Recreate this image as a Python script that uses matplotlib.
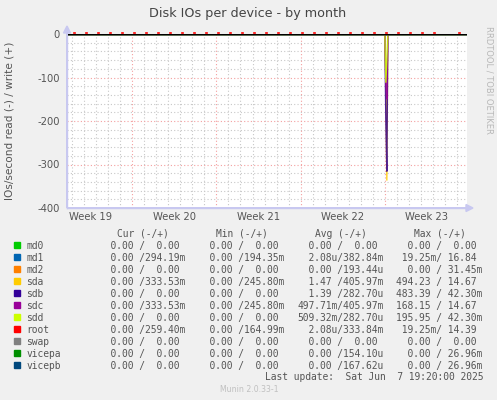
import matplotlib
matplotlib.use("Agg")
import matplotlib.pyplot as plt
import numpy as np

# ---------------- data ----------------
title = "Disk IOs per device - by month"
ylabel = "IOs/second read (-) / write (+)"
week_labels = ["Week 19", "Week 20", "Week 21", "Week 22", "Week 23"]
week_label_pos = [-24.5, -17.5, -10.5, -3.5, 3.5]   # days relative to start of week 23
week_bounds = [-21, -14, -7, 0]
x_start, x_end = -26.42, 6.83
y_ticks = [0, -100, -200, -300, -400]

devices = ["md0", "md1", "md2", "sda", "sdb", "sdc", "sdd", "root", "swap", "vicepa", "vicepb"]
colors = ["#00CC00", "#0066B3", "#FF8000", "#FFCC00", "#330099", "#990099",
          "#CCFF00", "#FF0000", "#808080", "#008F00", "#00487D"]

# read spike near start of week 23 (hours after week start -> IOs/s read, drawn negative)
spike_hours = [0, 2, 4, 6]
spike_read = {
    "sda": [0, 110, 337, 0],
    "sdb": [0, 200, 316, 0],
    "sdc": [0, 112, 150, 0],
    "sdd": [0, 112, 60, 0],
}
# small daily write blips (root), at ~04:00 each day
write_days = list(range(-26, 7))
write_val = [2.0] * len(write_days)

cur = ["  0.00 /  0.00 ", "  0.00 /294.19m", "  0.00 /  0.00 ", "  0.00 /333.53m",
       "  0.00 /  0.00 ", "  0.00 /333.53m", "  0.00 /  0.00 ", "  0.00 /259.40m",
       "  0.00 /  0.00 ", "  0.00 /  0.00 ", "  0.00 /  0.00 "]
mins = ["  0.00 /  0.00 ", "  0.00 /194.35m", "  0.00 /  0.00 ", "  0.00 /245.80m",
        "  0.00 /  0.00 ", "  0.00 /245.80m", "  0.00 /  0.00 ", "  0.00 /164.99m",
        "  0.00 /  0.00 ", "  0.00 /  0.00 ", "  0.00 /  0.00 "]
avgs = ["  0.00 /  0.00 ", "  2.08u/382.84m", "  0.00 /193.44u", "  1.47 /405.97m",
        "  1.39 /282.70u", "497.71m/405.97m", "509.32m/282.70u", "  2.08u/333.84m",
        "  0.00 /  0.00 ", "  0.00 /154.10u", "  0.00 /167.62u"]
maxs = ["  0.00 /  0.00 ", " 19.25m/ 16.84 ", "  0.00 / 31.45m", "494.23 / 14.67 ",
        "483.39 / 42.30m", "168.15 / 14.67 ", "195.95 / 42.30m", " 19.25m/ 14.39 ",
        "  0.00 /  0.00 ", "  0.00 / 26.96m", "  0.00 / 26.96m"]
headers = ["Cur (-/+)", "Min (-/+)", "Avg (-/+)", "Max (-/+)"]
last_update = "Last update:  Sat Jun  7 19:20:00 2025"
munin_ver = "Munin 2.0.33-1"
side_text = "RRDTOOL / TOBI OETIKER"

# ---------------- figure ----------------
W, H = 497, 400
fig = plt.figure(figsize=(W / 100, H / 100), dpi=100, facecolor="#F0F0F0")

def fx(px):
    return px / W

def fy(py):
    return 1 - py / H

L, R, T, B = 67, 467, 34, 208
ax = fig.add_axes([fx(L), fy(B), fx(R - L), (B - T) / H])
ax.set_facecolor("white")
ax.set_xlim(x_start, x_end)
ax.set_ylim(-400, 0)

# grid
for d in range(-26, 7):
    if d in week_bounds:
        continue
    ax.axvline(d, color="#c8c8c8", lw=0.8, ls=(0, (1, 2)), zorder=1)
for yv in range(-380, 0, 20):
    if yv % 100 == 0:
        continue
    ax.axhline(yv, color="#c8c8c8", lw=0.8, ls=(0, (1, 2)), zorder=1)
for d in week_bounds:
    ax.axvline(d, color="#f4a0a0", lw=0.8, ls=(0, (1, 2)), zorder=1)
for yv in [-100, -200, -300]:
    ax.axhline(yv, color="#f4a0a0", lw=0.8, ls=(0, (1, 2)), zorder=1)

# series baselines + spike
for name, col in zip(devices, colors):
    if name in spike_read:
        xs = [x_start] + [h / 24.0 for h in spike_hours] + [x_end]
        ys = [0] + [-v for v in spike_read[name]] + [0]
    else:
        xs = [x_start, x_end]
        ys = [0, 0]
    ax.plot(xs, ys, color=col, lw=1.0, alpha=0.85 if name in spike_read else 1.0,
            zorder=3, solid_joinstyle="miter")

# write blips
for d, v in zip(write_days, write_val):
    xx = d + 4 / 24.0
    ax.plot([xx - 0.04, xx + 0.04], [v, v], color="#FF0000", lw=1.2,
            clip_on=False, zorder=4)

ax.axhline(0, color="black", lw=1.0, zorder=5)

for s in ["top", "right"]:
    ax.spines[s].set_visible(False)
for s in ["left", "bottom"]:
    ax.spines[s].set_color("#c8c8f0")
    ax.spines[s].set_linewidth(1.0)

ax.set_yticks(y_ticks)
ax.set_yticklabels([str(v) for v in y_ticks])
ax.set_xticks(week_label_pos)
ax.set_xticklabels(week_labels)
ax.tick_params(axis="both", length=0, colors="#555555", labelsize=7.2)
ax.tick_params(axis="y", pad=5)
ax.tick_params(axis="x", pad=3)
for lab in ax.get_yticklabels() + ax.get_xticklabels():
    lab.set_color("#555555")

# arrows
fig.patches.append(matplotlib.patches.FancyArrow(
    fx(L), fy(B), 0, (B - 26) / H, width=0, head_width=fx(7), head_length=7 / H,
    length_includes_head=True, color="#c8c8f0", transform=fig.transFigure))
fig.patches.append(matplotlib.patches.FancyArrow(
    fx(L), fy(B), fx(473 - L), 0, width=0, head_width=7 / H, head_length=fx(7),
    length_includes_head=True, color="#c8c8f0", transform=fig.transFigure))

# titles
fig.text(fx(248), fy(13), title, ha="center", va="center", fontsize=9.2,
         color="#444444")
fig.text(fx(10), fy(121), ylabel, ha="center", va="center", rotation=90,
         fontsize=7.6, color="#555555")
fig.text(fx(489), fy(26), side_text, ha="center", va="top", rotation=270,
         fontsize=6.0, color="#b8b8b8")

# legend
mono = "DejaVu Sans Mono"
fsz = 6.95
cw = 5.8
col_x = [99.2, 198.2, 297.2, 396.2]
fig_base0 = 236.8
for i, hd in enumerate(headers):
    fig.text(fx(col_x[i] + 3 * cw), fy(fig_base0), hd, ha="left", va="baseline",
             family=mono, fontsize=fsz, color="#555555")
for r, name in enumerate(devices):
    yb = 248.8 + 12 * r
    fig.patches.append(matplotlib.patches.Rectangle(
        (fx(14), fy(248.3 + 12 * r)), fx(6), 6 / H, color=colors[r],
        transform=fig.transFigure))
    fig.text(fx(26.5), fy(yb), name, ha="left", va="baseline", family=mono,
             fontsize=fsz, color="#555555")
    for c, vals in enumerate([cur, mins, avgs, maxs]):
        fig.text(fx(col_x[c]), fy(yb), vals[r], ha="left", va="baseline",
                 family=mono, fontsize=fsz, color="#555555")

fig.text(fx(483.5), fy(380.5), last_update, ha="right", va="baseline",
         family=mono, fontsize=fsz, color="#555555")
fig.text(fx(249), fy(389), munin_ver, ha="center", va="center",
         fontsize=5.6, color="#c0c0c0")

fig.savefig("out.png", dpi=100, facecolor=fig.get_facecolor())
